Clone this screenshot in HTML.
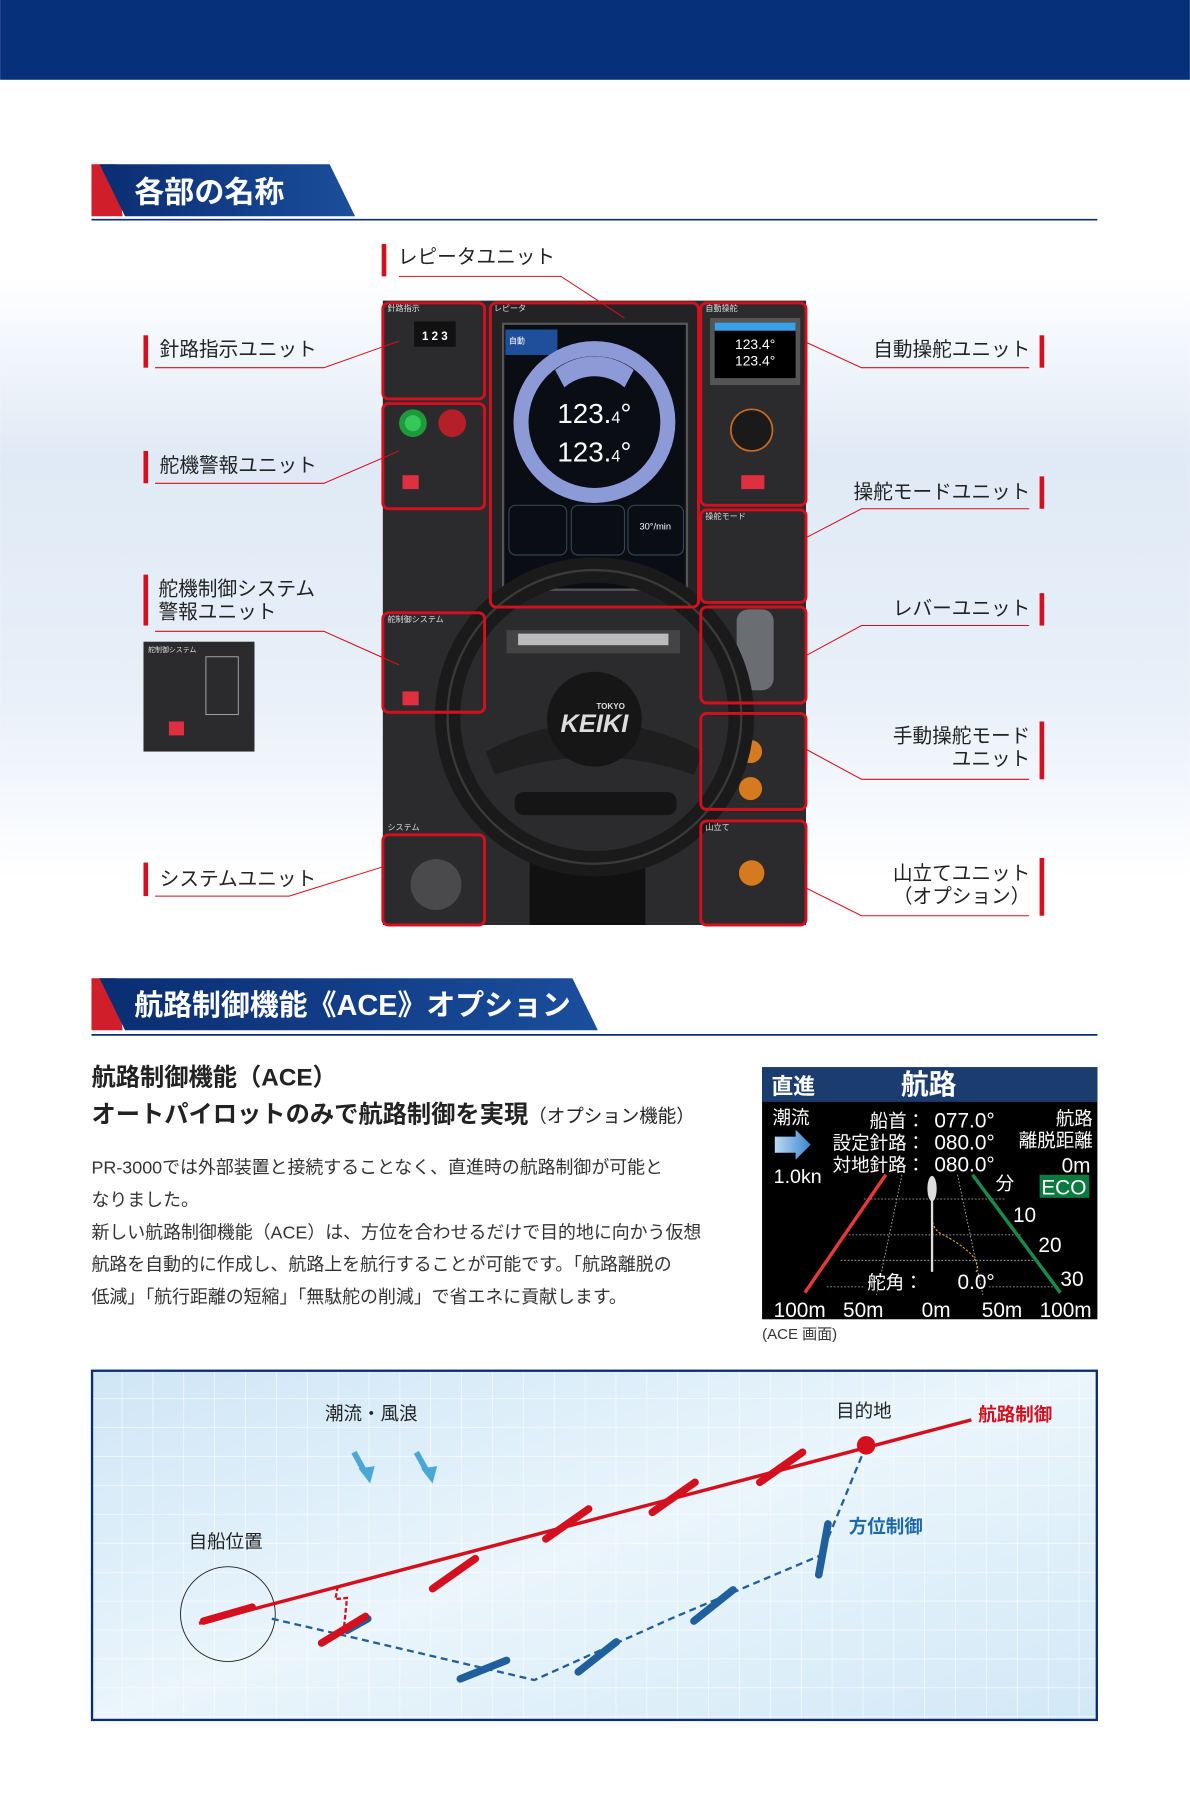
<!DOCTYPE html>
<html><head><meta charset="utf-8"><style>
html,body{margin:0;padding:0;background:#fff;}
svg{display:block;}
text{font-family:"Liberation Sans","Noto Sans CJK JP",sans-serif;}
</style></head><body>
<svg width="1190" height="1813" viewBox="0 0 1029 1568" xmlns="http://www.w3.org/2000/svg">
<defs>
<linearGradient id="bg" x1="0" y1="0" x2="0" y2="1">
<stop offset="0" stop-color="#fff"/><stop offset="0.3" stop-color="#dfeaf6"/><stop offset="0.7" stop-color="#e8f0f9"/><stop offset="1" stop-color="#fff"/></linearGradient>
<linearGradient id="dg" x1="0" y1="0" x2="1" y2="1">
<stop offset="0" stop-color="#cfe6f6"/><stop offset="0.5" stop-color="#eaf5fc"/><stop offset="1" stop-color="#d2e8f6"/></linearGradient>
<linearGradient id="tab" x1="0" y1="0" x2="1" y2="0">
<stop offset="0" stop-color="#0a2d72"/><stop offset="1" stop-color="#1a4e9c"/></linearGradient>
<linearGradient id="arr" x1="0" y1="0" x2="1" y2="0"><stop offset="0" stop-color="#bcd9f2"/><stop offset="1" stop-color="#3a86d0"/></linearGradient>
<pattern id="grid" width="26.7" height="25" patternUnits="userSpaceOnUse" x="79" y="1185">
<path d="M26.7 0V25M0 25H26.7" stroke="#fff" stroke-width="1" fill="none"/></pattern>
</defs>
<rect width="1029" height="1568" fill="#fff"/>
<rect x="0" y="240" width="1029" height="520" fill="url(#bg)"/>
<rect x="0" y="0" width="1029" height="69" fill="#06307a"/>

<!-- section 1 tab -->
<polygon points="79,142 100,142 106,187 79,187" fill="#d01f2a"/>
<polygon points="86,142 285,142 307,187 108,187" fill="url(#tab)"/>
<line x1="79" y1="190" x2="949" y2="190" stroke="#0a2d72" stroke-width="1.5"/>
<text x="116" y="175" font-size="26" fill="#fff" font-weight="bold">各部の名称</text>

<!-- panel -->
<rect x="331" y="260" width="366" height="540" fill="#2b2b2d"/>
<rect x="424" y="262" width="180" height="263" fill="#232325"/>
<rect x="435" y="280" width="159" height="230" fill="#0b0d14" stroke="#555" stroke-width="2"/>
<rect x="437" y="285" width="45" height="22" fill="#1f4e9a"/>
<text x="440" y="297" font-size="7" fill="#fff">自動</text>
<circle cx="514" cy="365" r="70" fill="#8d9ad8"/>
<circle cx="514" cy="365" r="57" fill="#0b0d14"/>
<path d="M480 320 A55 55 0 0 1 548 320 L540 335 A40 40 0 0 0 488 335Z" fill="#8d9ad8"/>
<text x="514" y="366" font-size="24" fill="#fff" text-anchor="middle">123.<tspan font-size="14">4</tspan>°</text>
<text x="514" y="399" font-size="24" fill="#fff" text-anchor="middle">123.<tspan font-size="14">4</tspan>°</text>
<rect x="440" y="437" width="50" height="43" rx="6" fill="none" stroke="#345" />
<rect x="494" y="437" width="46" height="43" rx="6" fill="none" stroke="#345"/>
<rect x="543" y="437" width="48" height="43" rx="6" fill="none" stroke="#345"/>
<text x="553" y="458" font-size="8" fill="#fff">30°/min</text>
<!-- auto steering display -->
<rect x="614" y="275" width="78" height="58" fill="#555"/>
<rect x="618" y="279" width="70" height="48" fill="#000"/>
<rect x="618" y="279" width="70" height="7" fill="#3aa0e8"/>
<text x="653" y="302" font-size="12" fill="#fff" text-anchor="middle">123.4°</text>
<text x="653" y="316" font-size="12" fill="#fff" text-anchor="middle">123.4°</text>
<circle cx="650" cy="372" r="18" fill="#1a1a1a" stroke="#c86a20" stroke-width="1.5"/>
<rect x="641" y="411" width="20" height="12" fill="#e03040"/>
<rect x="348" y="411" width="14" height="12" fill="#e03040"/>
<rect x="348" y="598" width="14" height="12" fill="#e03040"/>
<circle cx="357" cy="366" r="12" fill="#1d9a3a"/><circle cx="357" cy="366" r="7" fill="#35c75a"/>
<circle cx="391" cy="366" r="12" fill="#b52028"/>
<rect x="358" y="278" width="36" height="22" fill="#111"/>
<text x="376" y="294" font-size="10" fill="#fff" text-anchor="middle" font-weight="bold">1 2 3</text>
<circle cx="649" cy="650" r="10" fill="#d67a20"/><circle cx="649" cy="682" r="10" fill="#d67a20"/>
<circle cx="650" cy="755" r="11" fill="#d67a20"/>
<rect x="637" y="527" width="32" height="70" rx="10" fill="#6a6d72"/>
<circle cx="377" cy="765" r="22" fill="#4a4a4c"/>
<rect x="458" y="744" width="100" height="56" fill="#111"/>
<rect x="438" y="545" width="150" height="20" fill="#444"/>
<rect x="448" y="548" width="130" height="10" fill="#bbb"/>
<!-- wheel -->
<circle cx="514" cy="620" r="127" fill="none" stroke="#1a1a1a" stroke-width="22"/>
<circle cx="514" cy="620" r="127" fill="none" stroke="#3a3a3a" stroke-width="2"/>
<path d="M420 650 Q514 600 608 650 L600 670 Q514 640 428 670Z" fill="#1e1e1e"/>
<circle cx="514" cy="622" r="41" fill="#161616"/>
<text x="514" y="633" font-size="22" fill="#ddd" text-anchor="middle" font-weight="bold" font-style="italic">KEIKI</text>
<text x="528" y="613" font-size="7" fill="#ddd" text-anchor="middle" font-weight="bold">TOKYO</text>
<rect x="445" y="685" width="140" height="20" rx="8" fill="#151515"/>
<!-- red boxes -->
<g fill="none" stroke="#d4101e" stroke-width="2.5">
<rect x="331" y="262" width="88" height="83" rx="5"/>
<rect x="331" y="349" width="88" height="91" rx="5"/>
<rect x="424" y="262" width="180" height="263" rx="5"/>
<rect x="606" y="262" width="91" height="175" rx="5"/>
<rect x="606" y="441" width="91" height="80" rx="5"/>
<rect x="606" y="525" width="91" height="83" rx="5"/>
<rect x="331" y="530" width="88" height="86" rx="5"/>
<rect x="606" y="617" width="91" height="83" rx="5"/>
<rect x="331" y="722" width="88" height="78" rx="5"/>
<rect x="606" y="710" width="91" height="90" rx="5"/>
</g>
<g font-size="7" fill="#ddd"><text x="335" y="269">針路指示</text><text x="427" y="269">レピータ</text><text x="610" y="269">自動操舵</text><text x="610" y="449">操舵モード</text><text x="335" y="538">舵制御システム</text><text x="335" y="718">システム</text><text x="610" y="718">山立て</text></g>

<!-- callouts -->
<g fill="none" stroke="#d4101e" stroke-width="0.9">
<polyline points="345,239 485,239 540,275"/>
<polyline points="134,318 280,318 345,295"/>
<polyline points="134,418 280,418 345,390"/>
<polyline points="134,546 280,546 345,575"/>
<polyline points="134,775 250,775 330,750"/>
<polyline points="890,318 745,318 697,296"/>
<polyline points="890,440 745,440 697,465"/>
<polyline points="890,541 745,541 697,567"/>
<polyline points="890,674 745,674 697,648"/>
<polyline points="890,792 745,792 697,768"/>
</g>
<g fill="#d4101e">
<rect x="330" y="211" width="4" height="28"/>
<rect x="124" y="290" width="4" height="28"/>
<rect x="124" y="390" width="4" height="28"/>
<rect x="124" y="497" width="4" height="44"/>
<rect x="124" y="746" width="4" height="29"/>
<rect x="899" y="290" width="4" height="28"/>
<rect x="899" y="412" width="4" height="28"/>
<rect x="899" y="513" width="4" height="28"/>
<rect x="899" y="624" width="4" height="50"/>
<rect x="899" y="742" width="4" height="50"/>
</g>
<g font-size="17" fill="#222">
<text x="344" y="228">レピータユニット</text>
<text x="138" y="308">針路指示ユニット</text>
<text x="138" y="408">舵機警報ユニット</text>
<text x="137" y="515">舵機制御システム</text>
<text x="137" y="535">警報ユニット</text>
<text x="138" y="766">システムユニット</text>
<g text-anchor="end">
<text x="891" y="308">自動操舵ユニット</text>
<text x="891" y="431">操舵モードユニット</text>
<text x="891" y="532">レバーユニット</text>
<text x="891" y="642">手動操舵モード</text>
<text x="891" y="662">ユニット</text>
<text x="891" y="761">山立てユニット</text>
<text x="891" y="781">（オプション）</text>
</g></g>
<rect x="124" y="555" width="96" height="95" fill="#2b2b2d"/>
<rect x="146" y="624" width="13" height="12" fill="#e03040"/>
<rect x="178" y="568" width="28" height="50" fill="none" stroke="#aaa" stroke-width="0.8"/>
<text x="128" y="564" font-size="6" fill="#ddd">舵制御システム</text>

<!-- section 2 tab -->
<polygon points="79,846 100,846 106,891 79,891" fill="#d01f2a"/>
<polygon points="86,846 495,846 517,891 108,891" fill="url(#tab)"/>
<line x1="79" y1="895" x2="949" y2="895" stroke="#0a2d72" stroke-width="1.5"/>
<text x="116" y="878" font-size="25" fill="#fff" font-weight="bold">航路制御機能《ACE》オプション</text>

<text x="79" y="939" font-size="21" fill="#222" font-weight="bold">航路制御機能（ACE）</text>
<text x="79" y="971" font-size="21" fill="#222" font-weight="bold">オートパイロットのみで航路制御を実現<tspan font-size="16" font-weight="normal">（オプション機能）</tspan></text>
<g font-size="15.5" fill="#333">
<text x="79" y="1015">PR-3000では外部装置と接続することなく、直進時の航路制御が可能と</text>
<text x="79" y="1043">なりました。</text>
<text x="79" y="1071">新しい航路制御機能（ACE）は、方位を合わせるだけで目的地に向かう仮想</text>
<text x="79" y="1099">航路を自動的に作成し、航路上を航行することが可能です。「航路離脱の</text>
<text x="79" y="1127">低減」「航行距離の短縮」「無駄舵の削減」で省エネに貢献します。</text>
</g>

<!-- ACE screen -->
<rect x="659" y="923" width="290" height="218" fill="#000"/>
<rect x="659" y="923" width="290" height="30" fill="#1b3c6e"/>
<text x="667" y="946" font-size="19" fill="#fff" font-weight="bold">直進</text>
<text x="779" y="946" font-size="24" fill="#fff" font-weight="bold">航路</text>
<g stroke="#bbb" stroke-width="0.7" stroke-dasharray="1.5,1.5" fill="none">
<line x1="747" y1="1037" x2="870" y2="1037"/><line x1="734" y1="1068" x2="883" y2="1068"/>
<line x1="727" y1="1090" x2="898" y2="1090"/><line x1="715" y1="1113" x2="748" y2="1113"/><line x1="855" y1="1113" x2="912" y2="1113"/>
<line x1="780" y1="1016" x2="758" y2="1120"/><line x1="828" y1="1016" x2="850" y2="1120"/>
</g>
<path d="M806 1050 Q805 1060 812 1066 Q830 1075 840 1085 Q848 1095 844 1100" stroke="#d9a020" stroke-width="1" stroke-dasharray="2,1.5" fill="none"/>
<line x1="766" y1="1016" x2="696" y2="1118" stroke="#e03a3a" stroke-width="3"/>
<line x1="841" y1="1016" x2="917" y2="1118" stroke="#1a8a4a" stroke-width="3"/>
<line x1="806" y1="1030" x2="806" y2="1100" stroke="#ddd" stroke-width="2"/>
<ellipse cx="806" cy="1028" rx="4" ry="11" fill="#ddd"/>
<polygon points="670,983 688,983 688,977 701,990 688,1003 688,997 670,997" fill="url(#arr)"/>
<g fill="#fff" font-size="16">
<text x="668" y="972">潮流</text>
<text x="669" y="1023" font-size="17">1.0kn</text>
<text x="800" y="975" text-anchor="end">船首：</text>
<text x="800" y="994" text-anchor="end">設定針路：</text>
<text x="800" y="1013" text-anchor="end">対地針路：</text>
<text x="808" y="975" font-size="18">077.0°</text>
<text x="808" y="994" font-size="18">080.0°</text>
<text x="808" y="1013" font-size="18">080.0°</text>
<text x="945" y="973" text-anchor="end">航路</text>
<text x="945" y="992" text-anchor="end">離脱距離</text>
<text x="943" y="1014" text-anchor="end" font-size="18">0m</text>
<rect x="899" y="1016" width="43" height="20" fill="#0a7a3e"/>
<text x="920" y="1033" text-anchor="middle" font-size="18">ECO</text>
<text x="861" y="1029">分</text>
<text x="876" y="1057" font-size="18">10</text>
<text x="898" y="1083" font-size="18">20</text>
<text x="917" y="1112" font-size="18">30</text>
<text x="750" y="1115">舵角：</text>
<text x="828" y="1115" font-size="18">0.0°</text>
<text x="669" y="1139" font-size="18">100m</text>
<text x="729" y="1139" font-size="18">50m</text>
<text x="797" y="1139" font-size="18">0m</text>
<text x="849" y="1139" font-size="18">50m</text>
<text x="899" y="1139" font-size="18">100m</text>
</g>
<text x="659" y="1158" font-size="13" fill="#333">(ACE 画面)</text>

<!-- bottom diagram -->
<rect x="79" y="1185" width="870" height="303" fill="url(#dg)"/>
<rect x="79" y="1185" width="870" height="303" fill="url(#grid)" opacity="0.9"/>
<rect x="79.5" y="1185.5" width="869" height="302" fill="none" stroke="#0a2d72" stroke-width="2"/>
<g font-size="16" fill="#222">
<text x="281" y="1228">潮流・風浪</text>
<text x="723" y="1226">目的地</text>
<text x="163" y="1339">自船位置</text>
<text x="846" y="1229" fill="#d4101e" font-weight="bold">航路制御</text>
<text x="734" y="1326" fill="#1e6aa8" font-weight="bold">方位制御</text>
</g>
<g stroke="#4aa8d8" stroke-width="5" fill="#4aa8d8">
<line x1="306" y1="1256" x2="316" y2="1274"/><polygon points="310,1270 324,1268 320,1283" stroke="none"/>
<line x1="360" y1="1256" x2="370" y2="1274"/><polygon points="364,1270 378,1268 374,1283" stroke="none"/>
</g>
<circle cx="197" cy="1396" r="41" fill="none" stroke="#222" stroke-width="0.8"/>
<polyline points="235,1400 300,1415 462,1453 580,1400 710,1345 749,1250" fill="none" stroke="#1e5f9c" stroke-width="2" stroke-dasharray="6,4"/>
<line x1="172" y1="1404" x2="840" y2="1228" stroke="#d4101e" stroke-width="3"/>
<polyline points="292,1372 290,1383 300,1382 297,1412" fill="none" stroke="#d4101e" stroke-width="2" stroke-dasharray="4,2"/>
<circle cx="749" cy="1250" r="8" fill="#d4101e"/>
<g stroke-linecap="round" stroke-width="6.5">
<g stroke="#1e5f9c">
<line x1="300" y1="1410" x2="318" y2="1400"/>
<line x1="398" y1="1452" x2="438" y2="1436"/>
<line x1="500" y1="1446" x2="533" y2="1420"/>
<line x1="600" y1="1402" x2="634" y2="1375"/>
<line x1="708" y1="1362" x2="716" y2="1318"/>
</g>
<g stroke="#d4101e">
<line x1="176" y1="1402" x2="218" y2="1390"/>
<line x1="278" y1="1421" x2="316" y2="1398"/>
<line x1="374" y1="1374" x2="411" y2="1348"/>
<line x1="472" y1="1331" x2="509" y2="1305"/>
<line x1="564" y1="1308" x2="601" y2="1282"/>
<line x1="657" y1="1282" x2="694" y2="1256"/>
</g></g>
</svg>
</body></html>
